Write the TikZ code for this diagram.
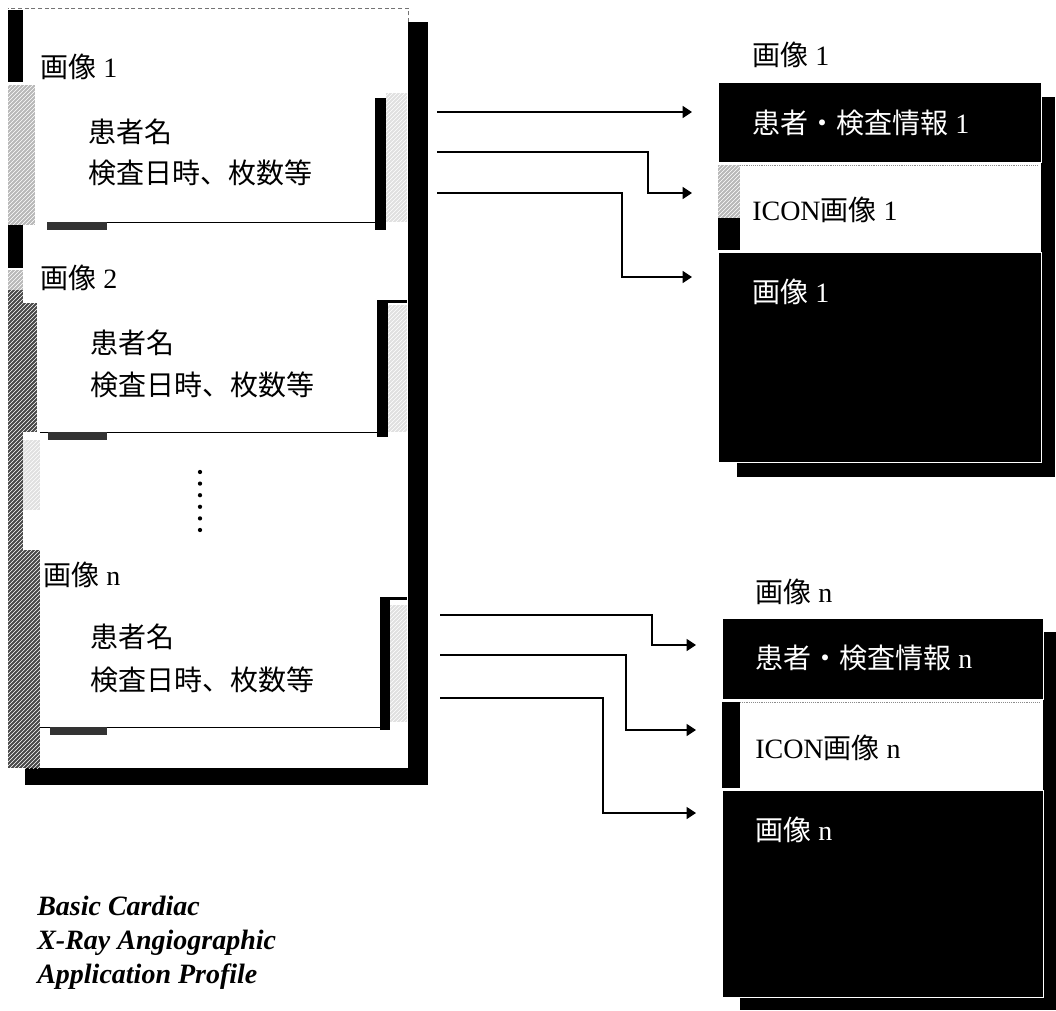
\documentclass[tikz,border=0pt]{standalone}
\usepackage{fontspec}
\setmainfont{Liberation Serif}
\newfontfamily\cjk{Noto Sans CJK JP}
\usetikzlibrary{arrows.meta,patterns,fit}
\begin{document}
\begin{tikzpicture}[x=0.75pt,y=-0.75pt,
  jp/.style={font=\fontsize{21pt}{25pt}\selectfont, inner sep=0pt, anchor=west},
  boxpart/.style={inner sep=0pt, outer sep=0pt},
  blackpart/.style={boxpart, fill=black, draw=white, line width=0.6pt},
  whitepart/.style={boxpart, fill=white},
  hatchdark/.style={fill=black!72, postaction={pattern=north east lines, pattern color=white}},
  hatchlight/.style={fill=black!28, postaction={pattern=north east lines, pattern color=white}},
  hatchfaint/.style={fill=black!12, postaction={pattern=north east lines, pattern color=white}},
  conn/.style={line width=0.8pt, -{Triangle[length=7pt,width=9pt]}}]
\path[use as bounding box] (0,0) rectangle (1056,1010);

% ---------- left block ----------
\fill (25,22) rectangle (428,785);
\node[fit={(8,8)(408,768)}, boxpart, fill=white] (outer) {};
\draw[black!55, densely dashed, line width=0.5pt] (outer.south east) ++(0,-746) |- (outer.north west);
% left strip
\fill (8,10) rectangle (23,82);
\path[hatchlight] (8,85) rectangle (35,225);
\fill (8,225) rectangle (23,268);
\path[hatchlight] (8,270) rectangle (23,290);
\path[hatchdark] (8,290) rectangle (23,768);
\path[hatchdark] (23,303) rectangle (37,432);
\path[hatchfaint] (23,440) rectangle (40,510);
\path[hatchdark] (23,550) rectangle (40,768);

% inner box 1
\node[fit={(35,95)(375,222)}, whitepart] (p1) {};
\draw[line width=0.6pt] (47,222) -- (386,222);
\path[hatchfaint] (386,93) rectangle (407,222);
\fill (375,98) rectangle (386,230);
\fill[black!80] (47,222) rectangle (107,230);
% inner box 2
\node[fit={(40,300)(377,432)}, whitepart] (p2) {};
\draw[line width=0.6pt] (40,432) -- (388,432);
\path[hatchfaint] (388,305) rectangle (407,432);
\fill (377,300) rectangle (388,437);
\fill (377,300) rectangle (407,303);
\fill[black!80] (48,432) rectangle (107,440);
% inner box n
\node[fit={(42,597)(380,727)}, whitepart] (p3) {};
\draw[line width=0.6pt] (40,727) -- (390,727);
\path[hatchfaint] (390,605) rectangle (407,722);
\fill (380,597) rectangle (390,730);
\fill (380,597) rectangle (407,600);
\fill[black!80] (50,727) rectangle (107,735);

% left texts
\node[jp] (lab1) at (40,67) {{\cjk 画像} 1};
\node[jp] (n1) at (88,132) {\cjk 患者名};
\node[jp] (d1) at (88,173) {\cjk 検査日時、枚数等};
\node[jp] (lab2) at (40,278) {{\cjk 画像} 2};
\node[jp] (n2) at (90,343) {\cjk 患者名};
\node[jp] (d2) at (90,385) {\cjk 検査日時、枚数等};
\node[jp] (lab3) at (43,575) {{\cjk 画像} n};
\node[jp] (n3) at (90,637) {\cjk 患者名};
\node[jp] (d3) at (90,680) {\cjk 検査日時、枚数等};
\foreach \k in {0,...,5} \fill (200,472+11.6*\k) circle[radius=1.6pt];

\node[anchor=west, align=left, inner sep=0pt,
      font=\fontsize{21pt}{25.5pt}\selectfont\bfseries\itshape] (title) at (37,943)
      {Basic Cardiac\\X-Ray Angiographic\\Application Profile};

% ---------- right group 1 ----------
\fill (737,97) rectangle (1055,477);
\node[fit={(718,82)(1041,162)}, blackpart] (h1) {};
\node[fit={(718,162)(1041,252)}, whitepart] (i1) {};
\node[fit={(718,252)(1041,462)}, blackpart] (m1) {};
\path[hatchlight] (718,165) rectangle (740,218);
\fill (718,218) rectangle (740,250);
\draw[black!45, densely dotted] (740,165) -- (1038,165);
\node[jp] (rl1) at (752,55) {{\cjk 画像} 1};
\node[jp, text=white] (t11) at (752,123) {{\cjk 患者・検査情報} 1};
\node[jp] (t12) at (752,210) {ICON{\cjk 画像} 1};
\node[jp, text=white] (t13) at (752,292) {{\cjk 画像} 1};

% ---------- right group n ----------
\fill (740,632) rectangle (1056,1010);
\node[fit={(722,618)(1043,699)}, blackpart] (h2) {};
\node[fit={(722,699)(1043,790)}, whitepart] (i2) {};
\node[fit={(722,790)(1043,997)}, blackpart] (m2) {};
\fill (722,702) rectangle (740,788);
\draw[black!45, densely dotted] (740,702) -- (1040,702);
\node[jp] (rl2) at (755,592) {{\cjk 画像} n};
\node[jp, text=white] (t21) at (755,658) {{\cjk 患者・検査情報} n};
\node[jp] (t22) at (755,748) {ICON{\cjk 画像} n};
\node[jp, text=white] (t23) at (755,830) {{\cjk 画像} n};

% ---------- connectors ----------
\coordinate (a1s) at (437,112); \coordinate (a1e) at (692,112);
\coordinate (a2s) at (437,152); \coordinate (a2e) at (692,193);
\coordinate (a3s) at (437,193); \coordinate (a3e) at (692,277);
\draw[conn] (a1s) -- (a1e);
\draw[conn] (a2s) -- ++(211,0) |- (a2e);
\draw[conn] (a3s) -- ++(185,0) |- (a3e);

\coordinate (a4s) at (440,615); \coordinate (a4e) at (696,645);
\coordinate (a5s) at (440,655); \coordinate (a5e) at (696,730);
\coordinate (a6s) at (440,698); \coordinate (a6e) at (696,813);
\draw[conn] (a4s) -- ++(212,0) |- (a4e);
\draw[conn] (a5s) -- ++(186,0) |- (a5e);
\draw[conn] (a6s) -- ++(163,0) |- (a6e);
\end{tikzpicture}
\end{document}
